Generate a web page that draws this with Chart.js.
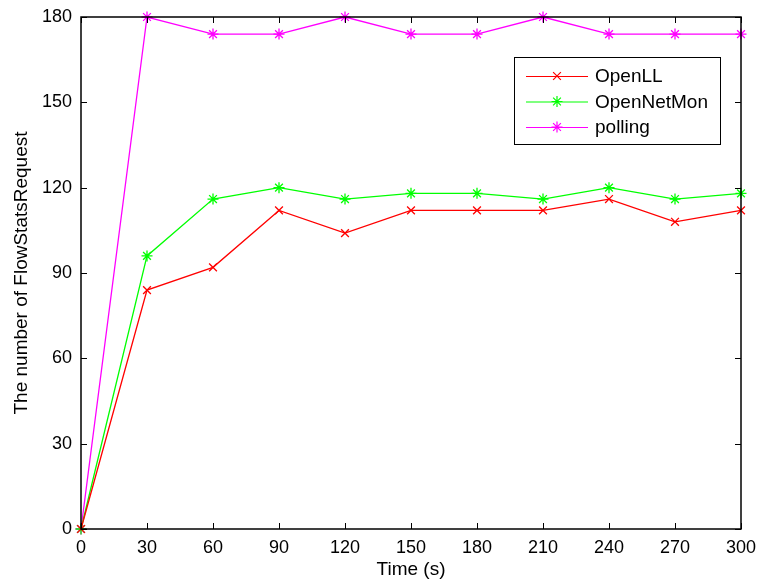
<!DOCTYPE html>
<html>
<head>
<meta charset="utf-8">
<script src="https://cdn.jsdelivr.net/npm/chart.js@4.4.0/dist/chart.umd.min.js"></script>
<style>
  html, body { margin: 0; padding: 0; background: #fff; }
  #wrap { width: 766px; height: 581px; position: relative; }
</style>
</head>
<body>
<div id="wrap"><canvas id="chart" width="766" height="581"></canvas></div>
<script>
  // data
  const times = [0, 30, 60, 90, 120, 150, 180, 210, 240, 270, 300];
  const openLL = [0, 84, 92, 112, 104, 112, 112, 112, 116, 108, 112];
  const openNetMon = [0, 96, 116, 120, 116, 118, 118, 116, 120, 116, 118];
  const polling = [0, 180, 174, 174, 180, 174, 174, 180, 174, 174, 174];
  const yTicks = [0, 30, 60, 90, 120, 150, 180];
  const xTicks = times;

  const FONT = 'Liberation Sans, Arial, sans-serif';

  function toPts(ys) {
    return ys.map((y, i) => ({ x: times[i], y: y }));
  }

  // inward ticks + box, like the matlab figure
  const boxTicks = {
    id: 'boxTicks',
    afterDatasetsDraw(chart) {
      const { ctx, chartArea: a, scales } = chart;
      ctx.save();
      ctx.strokeStyle = '#000';
      ctx.lineWidth = 1;
      ctx.beginPath();
      xTicks.forEach(v => {
        const x = Math.round(scales.x.getPixelForValue(v)) + 0.5;
        ctx.moveTo(x, a.bottom); ctx.lineTo(x, a.bottom - 6);
        ctx.moveTo(x, a.top); ctx.lineTo(x, a.top + 6);
      });
      yTicks.forEach(v => {
        const y = Math.round(scales.y.getPixelForValue(v)) + 0.5;
        ctx.moveTo(a.left, y); ctx.lineTo(a.left + 6, y);
        ctx.moveTo(a.right, y); ctx.lineTo(a.right - 6, y);
      });
      ctx.stroke();
      ctx.lineWidth = 1.5;
      ctx.strokeRect(a.left, a.top, a.right - a.left, a.bottom - a.top);
      ctx.restore();
    }
  };

  // legend box inside the plot, top right
  const boxLegend = {
    id: 'boxLegend',
    afterDraw(chart) {
      const { ctx } = chart;
      const bx = 514, by = 57, bw = 206, bh = 87;
      ctx.save();
      ctx.fillStyle = '#fff';
      ctx.fillRect(bx, by, bw, bh);
      ctx.strokeStyle = '#000';
      ctx.lineWidth = 1;
      ctx.strokeRect(bx + 0.5, by + 0.5, bw, bh);
      ctx.font = '19px ' + FONT;
      ctx.textBaseline = 'middle';
      chart.data.datasets.forEach((ds, i) => {
        const y = by + 19 + i * 25.5;
        ctx.strokeStyle = ds.borderColor;
        ctx.lineWidth = 1.2;
        ctx.beginPath();
        ctx.moveTo(526, y + 0.5); ctx.lineTo(588, y + 0.5);
        ctx.stroke();
        Chart.helpers.drawPoint(ctx, {
          pointStyle: ds.pointStyle, radius: ds.pointRadius, borderWidth: 1.2
        }, 557, y);
        ctx.fillStyle = '#000';
        ctx.fillText(ds.label, 595, y + 1);
      });
      ctx.restore();
    }
  };

  new Chart(document.getElementById('chart'), {
    type: 'line',
    data: {
      datasets: [
        { label: 'OpenLL', data: toPts(openLL), borderColor: '#ff0000', backgroundColor: '#ff0000',
          pointStyle: 'crossRot', pointRadius: 5.5, pointBorderWidth: 1.3, borderWidth: 1.3 },
        { label: 'OpenNetMon', data: toPts(openNetMon), borderColor: '#00ff00', backgroundColor: '#00ff00',
          pointStyle: 'star', pointRadius: 5.5, pointBorderWidth: 1.3, borderWidth: 1.3 },
        { label: 'polling', data: toPts(polling), borderColor: '#ff00ff', backgroundColor: '#ff00ff',
          pointStyle: 'star', pointRadius: 5.5, pointBorderWidth: 1.3, borderWidth: 1.3 }
      ]
    },
    options: {
      responsive: false,
      animation: false,
      clip: false,
      layout: { padding: { top: 17, right: 25, left: 0, bottom: 0 } },
      plugins: { legend: { display: false }, tooltip: { enabled: false } },
      scales: {
        x: {
          type: 'linear', min: 0, max: 300,
          afterBuildTicks: s => { s.ticks = xTicks.map(v => ({ value: v })); },
          afterFit: s => { s.height = 52; },
          grid: { display: false, drawTicks: false },
          border: { display: false },
          ticks: { color: '#000', font: { family: FONT, size: 18 }, padding: 8, maxRotation: 0 },
          title: { display: true, text: 'Time (s)', color: '#000', font: { family: FONT, size: 19 }, padding: { top: 2, bottom: 0 } }
        },
        y: {
          min: 0, max: 180,
          afterBuildTicks: s => { s.ticks = yTicks.map(v => ({ value: v })); },
          afterFit: s => { s.width = 81; s.paddingTop = 0; s.paddingBottom = 0; },
          grid: { display: false, drawTicks: false },
          border: { display: false },
          ticks: { color: '#000', font: { family: FONT, size: 18 }, padding: 9 },
          title: { display: true, text: 'The number of FlowStatsRequest', color: '#000', font: { family: FONT, size: 19 }, padding: { top: 10, bottom: 0 } }
        }
      }
    },
    plugins: [boxTicks, boxLegend]
  });
</script>
</body>
</html>
